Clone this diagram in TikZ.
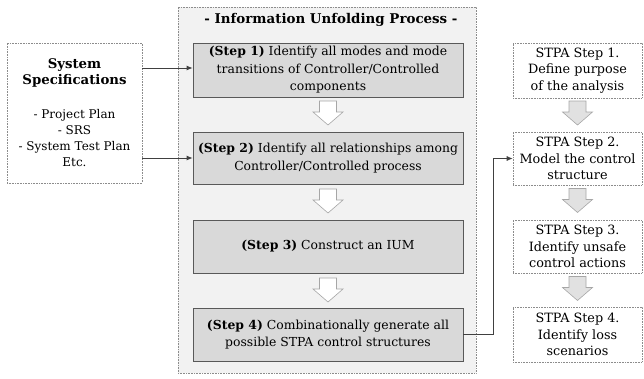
\documentclass[tikz,border=0pt]{standalone}
\usepackage{fontspec}
\setmainfont{DejaVu Serif}
\usetikzlibrary{arrows.meta}
\definecolor{stepfill}{HTML}{D9D9D9}
\definecolor{stepline}{HTML}{595959}
\definecolor{procfill}{HTML}{F2F2F2}
\definecolor{dotline}{HTML}{8C8C8C}
\definecolor{arrline}{HTML}{A6A6A6}
\definecolor{conncol}{HTML}{404040}
\newcommand\headfont{\fontsize{13.3}{16}\selectfont\bfseries}
\newcommand\specfont{\fontsize{12}{16}\selectfont\mdseries}
\newcommand\stepfont{\fontsize{12.4}{17.5}\selectfont}
\newcommand\stpafont{\fontsize{12.8}{16.5}\selectfont}
\begin{document}
\begin{tikzpicture}[x=1pt,y=-1pt,
  txt/.style={align=center, inner sep=0pt},
  stepbox/.style={txt, font=\stepfont, draw=stepline, fill=stepfill,
    line width=0.8pt, minimum width=270pt},
  dotbox/.style={txt, draw=dotline, densely dotted, line width=0.6pt},
  stpabox/.style={dotbox, font=\stpafont, fill=white, minimum width=129pt},
  hollowarrow/.style={draw=arrline, fill=white, line width=0.6pt},
  greyarrow/.style={draw=arrline, fill=stepfill!80!white, line width=0.6pt},
  conn/.style={draw=conncol, line width=0.8pt, -{Latex[length=6pt,width=5pt]}},
  pics/downarrow/.style={code={
    \path[pic actions] (-8.5,0) -- (8.5,0) -- (8.5,11) -- (15,11) -- (0,24)
      -- (-15,11) -- (-8.5,11) -- cycle;}}
]
\useasboundingbox (0,0) rectangle (644,378);

% outer frame of the unfolding process
\node[dotbox, fill=procfill, minimum width=298pt, minimum height=366pt]
  (proc) at (327,190) {};
\node[txt, font=\fontsize{13.4}{16}\selectfont\bfseries] (title) at (331,20)
  {- Information Unfolding Process -};

% input documents
\node[dotbox, font=\specfont, fill=white, minimum width=135pt, minimum height=140pt]
  (spec) at (74.5,113)
  {\headfont System\\\headfont Specifications\\[18pt]
   - Project Plan\\- SRS\\- System Test Plan\\Etc.};

% the four unfolding steps
\node[stepbox, minimum height=54pt] (s1) at (328,70)
  {\textbf{(Step 1)} Identify all modes and mode\\transitions of Controller/Controlled\\components};
\node[stepbox, minimum height=52pt] (s2) at (328,158)
  {\textbf{(Step 2)} Identify all relationships among\\Controller/Controlled process};
\node[stepbox, minimum height=53pt] (s3) at (328,246.5)
  {\textbf{(Step 3)} Construct an IUM};
\node[stepbox, minimum height=53pt] (s4) at (328,334.5)
  {\textbf{(Step 4)} Combinationally generate all\\possible STPA control structures};

\pic[hollowarrow] at (328,101) {downarrow};
\pic[hollowarrow] at (328,189) {downarrow};
\pic[hollowarrow] at (328,278) {downarrow};

% STPA steps
\node[stpabox, minimum height=55pt] (p1) at (577.5,70.5)
  {STPA Step 1.\\Define purpose\\of the analysis};
\node[stpabox, minimum height=53pt] (p2) at (577.5,158.5)
  {STPA Step 2.\\Model the control\\structure};
\node[stpabox, minimum height=53pt] (p3) at (577.5,246.5)
  {STPA Step 3.\\Identify unsafe\\control actions};
\node[stpabox, minimum height=55pt] (p4) at (577.5,334.5)
  {STPA Step 4.\\Identify loss\\scenarios};

\pic[greyarrow] at (577.5,101) {downarrow};
\pic[greyarrow] at (577.5,188.5) {downarrow};
\pic[greyarrow] at (577.5,276.5) {downarrow};

% connectors
\draw[conn] (spec.east |- 0,68) -- (s1.west |- 0,68);
\draw[conn] (spec.east |- s2.west) -- (s2.west);
\draw[conn] (s4.east) -- ++(30,0) |- (p2.west);
\end{tikzpicture}
\end{document}
